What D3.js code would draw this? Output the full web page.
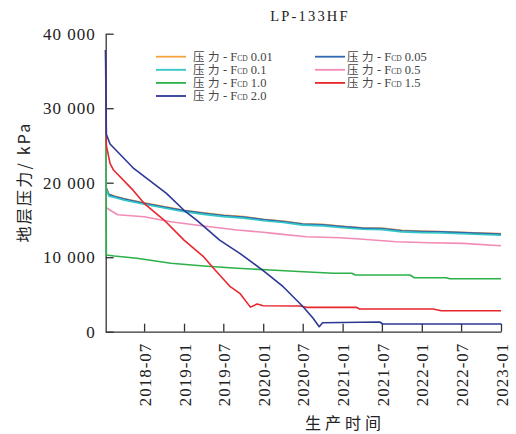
<!DOCTYPE html>
<html>
<head>
<meta charset="utf-8">
<script src="https://cdn.jsdelivr.net/npm/d3@7"></script>
<style>
  body { margin: 0; background: #fff; }
  svg { display: block; }
</style>
</head>
<body>
<div id="graph"></div>
<script>
// values, [date, kPa]
const p001 = [["2018-01-05",37800],["2018-01-07",19350],["2018-01-20",18450],["2018-02-15",18200],["2018-04-01",17850],["2018-07-01",17300],["2018-10-01",16800],["2019-01-01",16300],["2019-04-01",15950],["2019-07-01",15650],["2019-10-01",15450],["2020-01-01",15100],["2020-04-01",14850],["2020-07-01",14500],["2020-10-01",14400],["2021-01-01",14150],["2021-04-01",13950],["2021-07-01",13900],["2021-10-01",13600],["2022-01-01",13500],["2022-04-01",13450],["2022-07-01",13350],["2022-10-01",13250],["2023-01-01",13170]];
const p005 = [["2018-01-05",37800],["2018-01-07",19300],["2018-01-20",18400],["2018-02-15",18150],["2018-04-01",17800],["2018-07-01",17250],["2018-10-01",16750],["2019-01-01",16250],["2019-04-01",15900],["2019-07-01",15600],["2019-10-01",15400],["2020-01-01",15050],["2020-04-01",14800],["2020-07-01",14450],["2020-10-01",14350],["2021-01-01",14100],["2021-04-01",13900],["2021-07-01",13850],["2021-10-01",13550],["2022-01-01",13450],["2022-04-01",13400],["2022-07-01",13300],["2022-10-01",13200],["2023-01-01",13100]];
const p01 = [["2018-01-05",37800],["2018-01-07",19100],["2018-01-20",18200],["2018-02-15",18000],["2018-04-01",17650],["2018-07-01",17100],["2018-10-01",16600],["2019-01-01",16100],["2019-04-01",15750],["2019-07-01",15450],["2019-10-01",15250],["2020-01-01",14900],["2020-04-01",14650],["2020-07-01",14300],["2020-10-01",14200],["2021-01-01",13950],["2021-04-01",13750],["2021-07-01",13700],["2021-10-01",13400],["2022-01-01",13300],["2022-04-01",13250],["2022-07-01",13150],["2022-10-01",13050],["2023-01-01",12950]];
const p05 = [["2018-01-05",37800],["2018-01-07",16730],["2018-01-15",16500],["2018-03-01",15700],["2018-07-01",15430],["2018-11-01",14760],["2019-04-01",14180],["2019-09-03",13650],["2020-01-01",13350],["2020-02-16",13200],["2020-07-18",12750],["2020-12-20",12610],["2021-04-05",12400],["2021-09-06",12080],["2022-02-07",11940],["2022-07-09",11860],["2023-01-01",11540]];
const p10 = [["2018-01-05",37800],["2018-01-08",10300],["2018-02-13",10160],["2018-05-29",9850],["2018-11-01",9180],["2019-04-02",8820],["2019-09-03",8510],["2020-02-04",8280],["2020-07-05",8050],["2020-11-20",7840],["2021-02-12",7840],["2021-03-01",7610],["2021-11-07",7610],["2021-11-28",7250],["2022-04-24",7250],["2022-05-09",7110],["2023-01-01",7110]];
const p15 = [["2018-01-05",37800],["2018-01-08",25000],["2018-01-25",22600],["2018-02-10",21700],["2018-05-11",19000],["2018-07-01",17230],["2018-10-01",14990],["2019-01-01",12300],["2019-04-01",10070],["2019-05-17",8510],["2019-08-02",6040],["2019-09-15",5150],["2019-11-03",3300],["2019-12-04",3720],["2020-01-01",3490],["2020-06-18",3450],["2020-07-19",3270],["2021-03-05",3270],["2021-03-20",3050],["2022-02-22",3050],["2022-03-31",2820],["2023-01-01",2820]];
const p20 = [["2018-01-05",37800],["2018-01-08",26500],["2018-01-25",25200],["2018-05-11",22000],["2018-10-12",18570],["2019-01-01",16300],["2019-02-28",14990],["2019-06-14",12300],["2019-09-15",10520],["2020-01-01",8200],["2020-04-02",6040],["2020-07-03",3355],["2020-08-18",1800],["2020-09-15",670],["2020-10-01",1210],["2021-06-21",1300],["2021-07-05",1030],["2023-01-01",1030]];

const seriesData = [p001, p005, p01, p05, p10, p15, p20];
const legendLabels = ["0.01", "0.05", "0.1", "0.5", "1.0", "1.5", "2.0"];
const colors = ["#f4a340", "#2f68b0", "#33c6c6", "#f28bb5", "#2cb14a", "#e8262d", "#2c3796"];
const xTicks = ["2018-07", "2019-01", "2019-07", "2020-01", "2020-07", "2021-01", "2021-07", "2022-01", "2022-07", "2023-01"];
const yTicks = [0, 10000, 20000, 30000, 40000];
const title = "LP-133HF";

const W = 516, H = 434;
const pad = { l: 105.7, r: 501, t: 33.7, b: 331.7 };
const serif = "'Liberation Serif', 'Times New Roman', 'Noto Sans CJK SC', serif";
const cjk = "'Noto Sans CJK SC', sans-serif";
const parse = d3.timeParse("%Y-%m-%d");
const parseM = d3.timeParse("%Y-%m");

const svg = d3.select("#graph").append("svg").attr("width", W).attr("height", H);

const x = d3.scaleTime().domain([parse("2018-01-05"), parse("2023-01-01")]).range([pad.l, pad.r]);
const y = d3.scaleLinear().domain([0, 40000]).range([pad.b, pad.t]);

// axes, ticks point inward
const xAxis = svg.append("g")
  .attr("transform", `translate(0,${pad.b})`)
  .call(d3.axisBottom(x).tickValues(xTicks.map(parseM)).tickFormat(d3.timeFormat("%Y-%m"))
    .tickSizeInner(-8).tickSizeOuter(0));
xAxis.selectAll("text")
  .attr("transform", "rotate(-90)")
  .attr("text-anchor", "end")
  .attr("x", -11)
  .attr("y", 0)
  .attr("dy", "0.36em");

const yAxis = svg.append("g")
  .attr("transform", `translate(${pad.l},0)`)
  .call(d3.axisLeft(y).tickValues(yTicks).tickFormat((d) => (d === 0 ? "0" : d3.format(",")(d).replace(",", " ")))
    .tickSizeInner(-8).tickSizeOuter(0).tickPadding(10));

svg.selectAll(".domain, .tick line").attr("stroke", "#333").attr("stroke-width", 1.3);
svg.selectAll(".tick text")
  .attr("font-family", serif)
  .attr("font-size", 17)
  .attr("letter-spacing", 1)
  .attr("fill", "#222");

// lines
const line = d3.line().x((d) => x(parse(d[0]))).y((d) => y(d[1]));
svg.append("g")
  .selectAll("path")
  .data(seriesData)
  .enter()
  .append("path")
  .attr("d", line)
  .attr("fill", "none")
  .attr("stroke", (d, i) => colors[i])
  .attr("stroke-width", 1.6)
  .attr("stroke-linejoin", "round");

// title + axis titles
svg.append("text")
  .attr("x", 310).attr("y", 21)
  .attr("text-anchor", "middle")
  .attr("font-family", serif).attr("font-size", 14.5).attr("letter-spacing", 2.2)
  .attr("fill", "#222")
  .text(title);

svg.append("text")
  .attr("transform", "translate(30,182) rotate(-90)")
  .attr("text-anchor", "middle")
  .attr("font-family", cjk).attr("font-size", 16).attr("letter-spacing", 2.2)
  .attr("fill", "#222")
  .text("地层压力/ kPa");

svg.append("text")
  .attr("x", 345).attr("y", 429)
  .attr("text-anchor", "middle")
  .attr("font-family", cjk).attr("font-size", 16).attr("letter-spacing", 4)
  .attr("fill", "#222")
  .text("生产时间");

// legend, two columns
const legend = svg.append("g")
  .selectAll("g")
  .data(legendLabels)
  .enter()
  .append("g")
  .attr("transform", (d, i) => `translate(${i % 2 ? 315 : 156},${56.7 + Math.floor(i / 2) * 13.1})`);
legend.append("line")
  .attr("x1", 0).attr("x2", 30)
  .attr("stroke", (d, i) => colors[i])
  .attr("stroke-width", 1.8);
const lt = legend.append("text")
  .attr("x", (d, i) => (i % 2 ? 32 : 37))
  .attr("y", 4.3)
  .attr("font-family", serif)
  .attr("font-size", 12.5)
  .attr("fill", "#444");
lt.append("tspan").attr("font-family", cjk).attr("font-size", 11.5).attr("letter-spacing", 3.5).text("压力");
lt.append("tspan").text("- F");
lt.append("tspan").attr("font-size", 7.5).text("CD");
lt.append("tspan").text((d) => " " + d);
</script>
</body>
</html>
